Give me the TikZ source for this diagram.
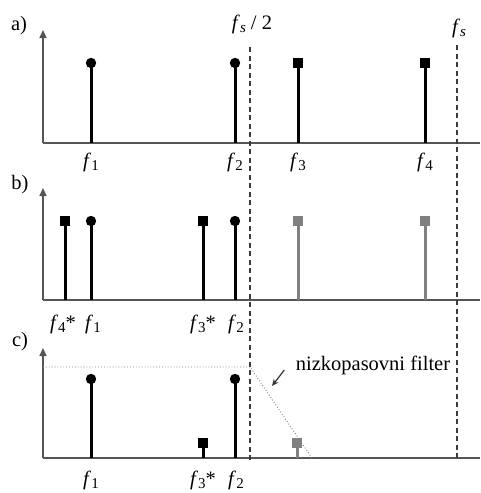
\documentclass[tikz,border=0pt]{standalone}
\usepackage{fontspec}
\setmainfont{Liberation Serif}
\usetikzlibrary{arrows.meta}
\definecolor{Axis}{HTML}{555555}
\definecolor{Gray}{HTML}{808080}
\newcommand{\fq}[1]{\textit{f}\raisebox{-.35ex}{\fontsize{15}{15}\selectfont #1}}

\begin{document}
\begin{tikzpicture}[x=1pt,y=-1pt,font=\fontsize{20.5}{23}\selectfont,
  axis/.style={Axis,line width=1.6pt},
  yaxis/.style={axis,-{Triangle[length=8pt,width=7pt]}},
  spike/.style={line width=3pt},
  fdash/.style={line width=1.4pt,dash pattern=on 5pt off 3.5pt,Axis!70!black},
  fdot/.style={Gray,line width=0.9pt,dotted}]
  \useasboundingbox (0,0) rectangle (480,493);
  \foreach \y/\t in {143/30,300/188,458/348}{
    \draw[axis] (43,\y) -- (480,\y);
    \draw[yaxis] (43,\y) -- (43,\t);
  }
  \draw[fdash] (250,47) -- (250,460);
  \draw[fdash] (457,45) -- (457,460);
  \draw[fdot] (43,367) -- (250,367) -- (312,458);
  \foreach \x/\b/\t in {91/143/63,235/143/63,91/300/221,235/300/221,91/458/379,235/458/379}{
    \draw[spike] (\x,\b) -- (\x,\t);
    \fill (\x,\t) circle (5.2);
  }
  \foreach \x/\b/\t/\c in {298/143/63/black,425/143/63/black,65/300/221/black,203/300/221/black,
      298/300/221/Gray,425/300/221/Gray,203/458/443/black,297/458/443/Gray}{
    \draw[spike,\c] (\x,\b) -- (\x,\t);
    \fill[\c] (\x,\t) +(-5.3,-5.3) rectangle +(5.3,5.3);
  }
  \node (pa) at (19,26) {a)};
  \node (pb) at (20,185) {b)};
  \node (pc) at (20,342) {c)};
  \node (nyq) at (252,24) {\fq{\textit{s}} / 2};
  \node (fs) at (459,28) {\fq{\textit{s}}};
  \foreach \x/\y/\n/\t in {91/162/a1/\fq{1},235/162/a2/\fq{2},298/162/a3/\fq{3},425/162/a4/\fq{4},
      63/324/b4/{\fq{4}*},93/324/b1/\fq{1},203/324/b3/{\fq{3}*},236/324/b2/\fq{2},
      91/480/c1/\fq{1},203/480/c3/{\fq{3}*},236/480/c2/\fq{2}}
    \node (l\n) at (\x,\y) {\t};
  \node (filt) at (373,365) {nizkopasovni filter};
  \coordinate (fhead) at (272,386);
  \draw[Axis!60!black,line width=1.2pt,-{Stealth[length=7pt,width=6pt]}]
    ([xshift=-8pt,yshift=-5pt]filt.west) -- (fhead);
\end{tikzpicture}
\end{document}
